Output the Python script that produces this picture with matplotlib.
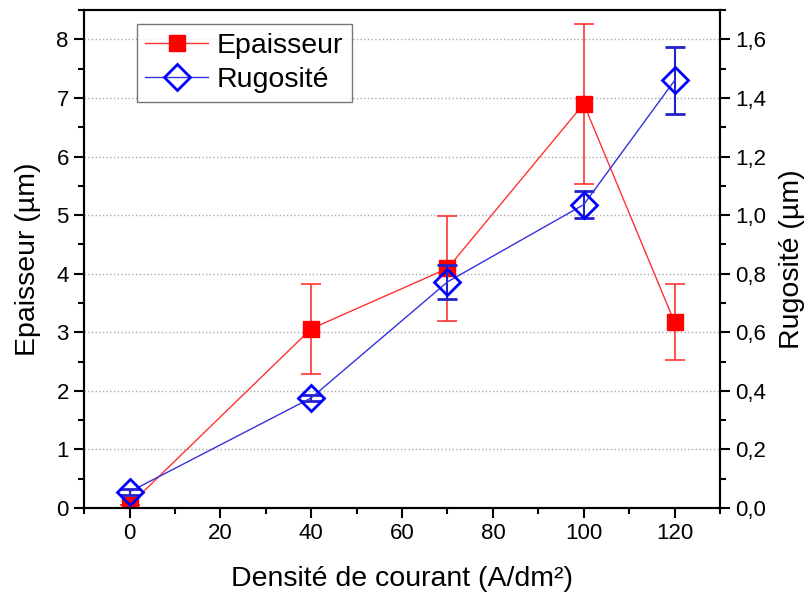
import matplotlib
matplotlib.use('Agg')
import matplotlib.pyplot as plt
from matplotlib.lines import Line2D
from matplotlib.ticker import MultipleLocator, FuncFormatter

plt.rcParams['font.family'] = ['Liberation Sans', 'DejaVu Sans']

# Données
densite = [0, 40, 70, 100, 120]
epaisseur = [0.05, 3.06, 4.09, 6.90, 3.17]
epaisseur_err = [0.0, 0.77, 0.90, 1.37, 0.65]
rugosite = [0.055, 0.376, 0.772, 1.036, 1.46]
rugosite_err = [0.01, 0.01, 0.058, 0.045, 0.115]

fig = plt.figure(figsize=(8.09, 5.99), dpi=100)
ax = fig.add_axes([0.104, 0.152, 0.786, 0.831])
ax2 = ax.twinx()

red = '#ff0000'
blue = '#0000ff'

ax.errorbar(densite, epaisseur, yerr=epaisseur_err, color='#ff3333', lw=1.0,
            marker='s', ms=11, mfc=red, mec=red, ecolor='#ff3333',
            elinewidth=1.2, capsize=7, capthick=1.2, zorder=3)
ax2.errorbar(densite, rugosite, yerr=rugosite_err, color='#3333dd', lw=1.0,
             marker='D', ms=13, mfc='none', mec=blue, mew=2, ecolor='#2222cc',
             elinewidth=1.5, capsize=7, capthick=1.5, zorder=3)

ax.set_xlim(-10, 130)
ax.set_ylim(0, 8.5)
ax2.set_ylim(0, 1.7)

ax.xaxis.set_major_locator(MultipleLocator(20))
ax.xaxis.set_minor_locator(MultipleLocator(10))
ax.yaxis.set_major_locator(MultipleLocator(1))
ax.yaxis.set_minor_locator(MultipleLocator(0.5))
ax2.yaxis.set_major_locator(MultipleLocator(0.2))
ax2.yaxis.set_minor_locator(MultipleLocator(0.1))
ax2.yaxis.set_major_formatter(FuncFormatter(lambda v, p: f'{v:.1f}'.replace('.', ',')))

ax.yaxis.grid(True, which='major', linestyle=':', color='#aaaaaa', lw=1.0)
ax.set_axisbelow(True)

for a in (ax, ax2):
    a.tick_params(which='major', direction='out', length=7, width=1.5, labelsize=16, pad=4)
    a.tick_params(which='minor', direction='out', length=4, width=1.5)
    for s in a.spines.values():
        s.set_linewidth(1.5)

ax.set_xlabel('Densité de courant (A/dm²)', fontsize=20.5, labelpad=16)
ax.set_ylabel('Epaisseur (µm)', fontsize=20.5, labelpad=11)
ax2.set_ylabel('Rugosité (µm)', fontsize=20.5, labelpad=9)

h1 = Line2D([], [], color='#ff3333', lw=1.0, marker='s', ms=11, mfc=red, mec=red)
h2 = Line2D([], [], color='#3333dd', lw=1.0, marker='D', ms=13, mfc='none', mec=blue, mew=2)
leg = ax.legend(handles=[h1, h2], labels=['Epaisseur', 'Rugosité'], loc='upper left',
                bbox_to_anchor=(0.083, 0.972), fontsize=20.5, frameon=True, fancybox=False,
                edgecolor='#555555', handlelength=2.2, borderpad=0.3, labelspacing=0.3,
                handletextpad=0.3, borderaxespad=0)
leg.get_frame().set_linewidth(1.0)

fig.savefig('out.png', dpi=100)
